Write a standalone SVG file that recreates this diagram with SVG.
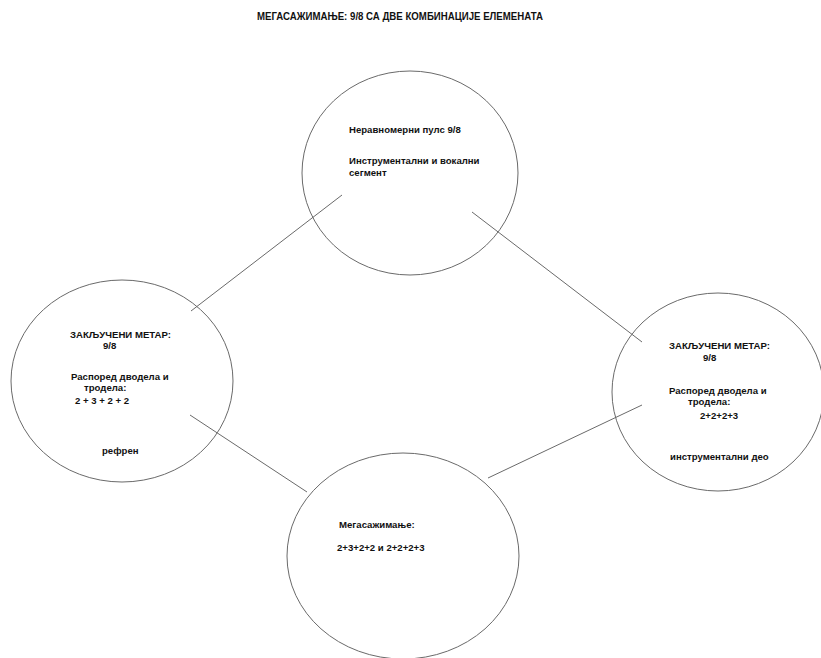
<svg xmlns="http://www.w3.org/2000/svg" width="821" height="658" viewBox="0 0 821 658">
<style>
.c{fill:none;stroke:#6a6a6a;stroke-width:1}
.l{stroke:#6a6a6a;stroke-width:1;fill:none}
text{font-family:"Liberation Sans",Arial,sans-serif;font-weight:bold;font-size:9.6px;fill:#111}
.t{font-size:10px}
</style>
<rect width="821" height="658" fill="#fff"/>
<text class="t" x="257" y="20" textLength="286" lengthAdjust="spacingAndGlyphs">МЕГАСАЖИМАЊЕ: 9/8 СА ДВЕ КОМБИНАЦИЈЕ ЕЛЕМЕНАТА</text>
<g id="connectors">
<line class="l" x1="191" y1="311" x2="342" y2="195"/>
<line class="l" x1="472" y1="212" x2="642" y2="342"/>
<line class="l" x1="190" y1="415" x2="307" y2="492"/>
<line class="l" x1="488" y1="478" x2="642" y2="405"/>
</g>
<g id="top">
<ellipse class="c" cx="410" cy="173" rx="108" ry="102"/>
<text x="349" y="133">Неравномерни пулс 9/8</text>
<text x="349" y="164">Инструментални и вокални</text>
<text x="349" y="176">сегмент</text>
</g>
<g id="left">
<ellipse class="c" cx="122" cy="381" rx="111" ry="101"/>
<text x="70" y="338">ЗАКЉУЧЕНИ МЕТАР:</text>
<text x="103" y="349">9/8</text>
<text x="71" y="380">Распоред дводела и</text>
<text x="84" y="391">тродела:</text>
<text x="75" y="404">2 + 3 + 2 + 2</text>
<text x="102" y="454">рефрен</text>
</g>
<g id="right">
<ellipse class="c" cx="718" cy="392" rx="106" ry="99"/>
<text x="669" y="349">ЗАКЉУЧЕНИ МЕТАР:</text>
<text x="703" y="361">9/8</text>
<text x="669" y="394">Распоред дводела и</text>
<text x="688" y="405">тродела:</text>
<text x="700" y="419">2+2+2+3</text>
<text x="670" y="460">инструментални део</text>
</g>
<g id="bottom">
<ellipse class="c" cx="403" cy="556" rx="116" ry="103"/>
<text x="339" y="528">Мегасажимање:</text>
<text x="337" y="551">2+3+2+2 и 2+2+2+3</text>
</g>
</svg>
